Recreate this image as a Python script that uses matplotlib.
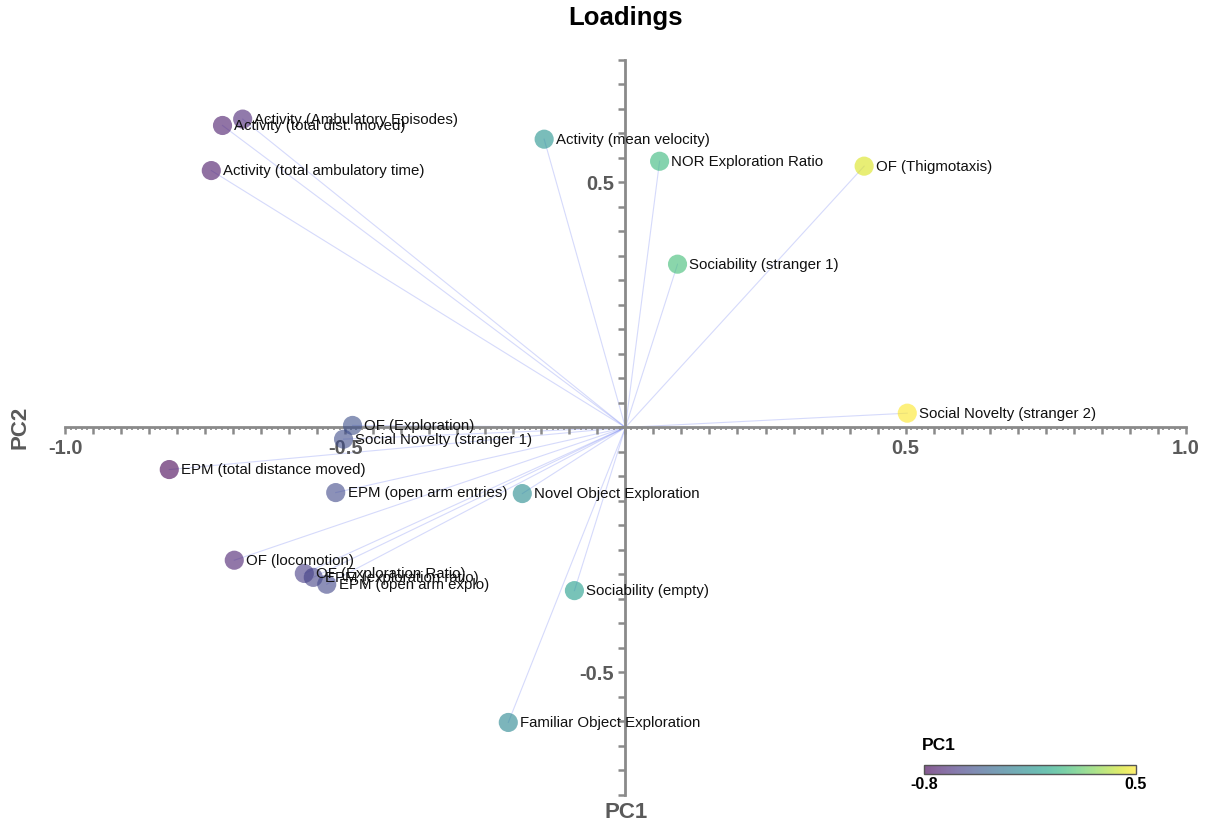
import numpy as np
import matplotlib
matplotlib.use("Agg")
import matplotlib.pyplot as plt
from matplotlib.ticker import MultipleLocator, FuncFormatter
from matplotlib.colors import Normalize
from matplotlib.cm import ScalarMappable

plt.rcParams['font.family'] = ['Liberation Sans', 'DejaVu Sans']

# loadings
labels = [
    "Activity (Ambulatory Episodes)",
    "Activity (total dist. moved)",
    "Activity (total ambulatory time)",
    "Activity (mean velocity)",
    "NOR Exploration Ratio",
    "OF (Thigmotaxis)",
    "Sociability (stranger 1)",
    "Social Novelty (stranger 2)",
    "OF (Exploration)",
    "Social Novelty (stranger 1)",
    "EPM (total distance moved)",
    "EPM (open arm entries)",
    "Novel Object Exploration",
    "OF (locomotion)",
    "OF (Exploration Ratio)",
    "EPM (exploration ratio)",
    "EPM (open arm explo)",
    "Sociability (empty)",
    "Familiar Object Exploration",
]
pc1 = [-0.683, -0.719, -0.739, -0.145, 0.061, 0.426, 0.093, 0.503, -0.487, -0.503,
       -0.814, -0.517, -0.184, -0.698, -0.573, -0.557, -0.533, -0.091, -0.209]
pc2 = [0.629, 0.616, 0.524, 0.588, 0.543, 0.533, 0.333, 0.029, 0.004, -0.024,
       -0.086, -0.133, -0.135, -0.271, -0.298, -0.306, -0.320, -0.333, -0.602]

cmin, cmax = -0.8, 0.5
axis_grey = '#8a8a8a'
text_grey = '#5a5a5a'

fig = plt.figure(figsize=(12.09, 8.27), dpi=100)
ax = fig.add_axes([0.0538, 0.0387, 0.927, 0.889])

# arrows from origin
for x, y in zip(pc1, pc2):
    ax.plot([0, x], [0, y], color='#5a6cf0', alpha=0.25, lw=0.8, zorder=1)

norm = Normalize(cmin, cmax)
ax.scatter(pc1, pc2, c=pc1, cmap='viridis', norm=norm, s=190, alpha=0.6,
           edgecolors='none', zorder=4)

for lab, x, y in zip(labels, pc1, pc2):
    ax.annotate(lab, (x, y), xytext=(8.5, -0.5), textcoords='offset points',
                va='center', ha='left', fontsize=10.8, color='#111111', zorder=5)

ax.set_xlim(-1, 1)
ax.set_ylim(-0.75, 0.75)
for s in ['top', 'right']:
    ax.spines[s].set_visible(False)
for s in ['left', 'bottom']:
    ax.spines[s].set_position('zero')
    ax.spines[s].set_color(axis_grey)
    ax.spines[s].set_linewidth(2)
    ax.spines[s].set_zorder(2)

ax.xaxis.set_major_locator(MultipleLocator(0.05))
ax.xaxis.set_minor_locator(MultipleLocator(0.01))
ax.yaxis.set_major_locator(MultipleLocator(0.05))


def only_halves(v, pos):
    if abs(v) > 0.01 and abs(round(v / 0.5) * 0.5 - v) < 1e-6:
        return f"{v:.1f}"
    return ""


ax.xaxis.set_major_formatter(FuncFormatter(only_halves))
ax.yaxis.set_major_formatter(FuncFormatter(only_halves))
ax.tick_params(axis='both', which='major', direction='out', length=5, width=1.8,
               color=axis_grey, labelsize=14.5, labelcolor=text_grey, pad=3)
ax.tick_params(axis='x', which='minor', direction='out', length=2.5, width=1.2,
               color=axis_grey)
for t in ax.get_xticklabels() + ax.get_yticklabels():
    t.set_fontweight('bold')

fig.text(626 / 1209, 1 - 18 / 827, "Loadings", ha='center', va='center',
         fontsize=18.5, fontweight='bold')
fig.text(626 / 1209, 1 - 812 / 827, "PC1", ha='center', va='center',
         fontsize=16, fontweight='bold', color=text_grey)
fig.text(20 / 1209, 1 - 427 / 827, "PC2", ha='center', va='center',
         fontsize=16, fontweight='bold', color=text_grey, rotation=90)
fig.text(53 / 1209, 1 - 5 / 827, "A", ha='left', va='bottom',
         fontsize=22, fontweight='bold')

# colour bar
cax = fig.add_axes([924 / 1209, 1 - 774 / 827, 212 / 1209, 9 / 827])
sm = ScalarMappable(norm=norm, cmap='viridis')
cb = fig.colorbar(sm, cax=cax, orientation='horizontal', alpha=0.65)
cb.set_ticks([cmin, cmax])
cb.set_ticklabels(["-0.8", "0.5"])
cb.outline.set_edgecolor('#555555')
cb.outline.set_linewidth(1)
cax.tick_params(length=0, labelsize=11.5, pad=2)
for t in cax.get_xticklabels():
    t.set_fontweight('bold')
fig.text(922 / 1209, 1 - 745 / 827, "PC1", ha='left', va='center',
         fontsize=12.5, fontweight='bold')

fig.savefig("out.png", dpi=100)
